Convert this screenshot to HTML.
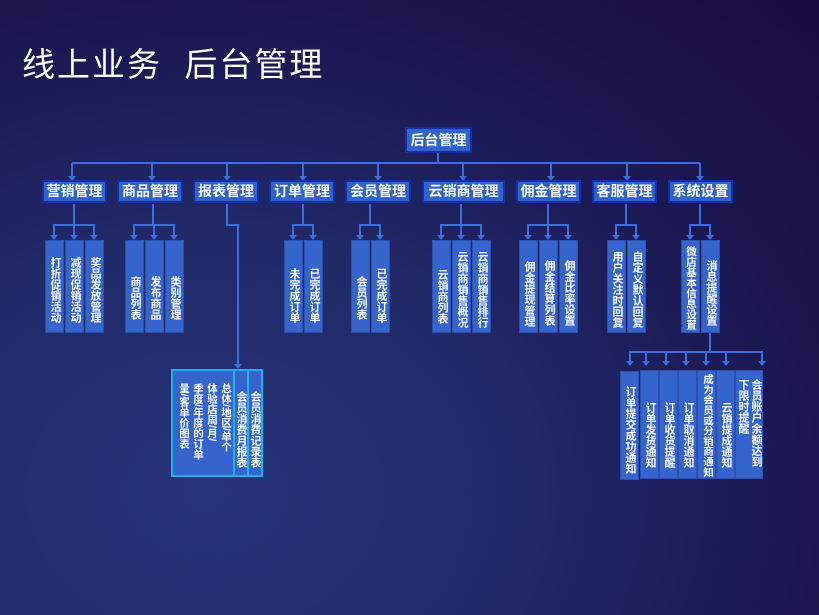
<!DOCTYPE html>
<html><head><meta charset="utf-8"><style>
body{margin:0;width:819px;height:615px;overflow:hidden;position:relative;
background:radial-gradient(ellipse at 25% 80%,#28347a 0%,#212a68 35%,#1c1a55 62%,#1a0b40 100%);
font-family:"Liberation Sans","Noto Sans CJK SC",sans-serif;color:#fff}
.t{position:absolute;left:22px;top:38px;font-size:33px;letter-spacing:2px;white-space:pre}
.b1{position:absolute;height:19px;background:#2f63cc;border:2px solid #1430a8;font-size:14px;font-weight:bold;text-align:center;line-height:19px;box-sizing:content-box}
.v{position:absolute;background:#3565cc;border:1px solid #2a50b0;writing-mode:vertical-rl;text-orientation:upright;font-size:11px;font-weight:bold;line-height:17px;padding-top:6px;box-sizing:border-box;text-align:center;white-space:nowrap}
svg{position:absolute;left:0;top:0}
</style></head><body>
<div class="t">线上业务  后台管理</div>
<svg width="819" height="615"><g stroke="#3a6ee0" stroke-width="2" fill="none">
<line x1="438" y1="153" x2="438" y2="163"/>
<line x1="72" y1="163" x2="700" y2="163"/>
<line x1="72" y1="163" x2="72" y2="176"/><line x1="152" y1="163" x2="152" y2="176"/><line x1="227" y1="163" x2="227" y2="176"/><line x1="303" y1="163" x2="303" y2="176"/><line x1="378" y1="163" x2="378" y2="176"/><line x1="463" y1="163" x2="463" y2="176"/><line x1="551" y1="163" x2="551" y2="176"/><line x1="627" y1="163" x2="627" y2="176"/><line x1="700" y1="163" x2="700" y2="176"/>
<path d="M74 204V225M54 236V225H94V236M74 225V236"/>
<path d="M153 204V225M134 236V225H174V236M154 225V236"/>
<path d="M303 204V225M293 236V225H313V236"/>
<path d="M370 204V225M360 236V225H380V236"/>
<path d="M461 204V225M441 236V225H481V236M461 225V236"/>
<path d="M548 204V225M528 236V225H568V236M548 225V236"/>
<path d="M626 204V225M616 236V225H636V236"/>
<path d="M700 204V225M690 236V225H710V236"/>
<path d="M227 204V225H238V365"/>
<path d="M710 333V352M630 362V352H762V362M646 352V362M666 352V362M686 352V362M706 352V362M726 352V362"/>
</g><g fill="#3a6ee0">
<path id="a" d="M-4 0H4L0 5Z" transform="translate(72 176)"/>
<use href="#a" x="80"/><use href="#a" x="155"/><use href="#a" x="231"/><use href="#a" x="306"/><use href="#a" x="391"/><use href="#a" x="479"/><use href="#a" x="555"/><use href="#a" x="628"/>
<path id="b" d="M-4 0H4L0 5Z" transform="translate(54 235)"/>
<use href="#b" x="20"/><use href="#b" x="40"/><use href="#b" x="80"/><use href="#b" x="100"/><use href="#b" x="120"/><use href="#b" x="239"/><use href="#b" x="259"/><use href="#b" x="306"/><use href="#b" x="326"/><use href="#b" x="387"/><use href="#b" x="407"/><use href="#b" x="427"/><use href="#b" x="474"/><use href="#b" x="494"/><use href="#b" x="514"/><use href="#b" x="562"/><use href="#b" x="582"/><use href="#b" x="636"/><use href="#b" x="656"/>
<path d="M234 364H242L238 369Z"/>
<path id="c" d="M-4 0H4L0 5Z" transform="translate(630 361)"/>
<use href="#c" x="16"/><use href="#c" x="36"/><use href="#c" x="56"/><use href="#c" x="76"/><use href="#c" x="96"/><use href="#c" x="132"/>
</g></svg>
<div class="b1" style="left:405px;top:127px;width:63px;height:22px;line-height:22px">后台管理</div>
<div class="b1" style="left:42px;top:180px;width:61px">营销管理</div>
<div class="b1" style="left:117px;top:180px;width:62px">商品管理</div>
<div class="b1" style="left:193px;top:180px;width:62px">报表管理</div>
<div class="b1" style="left:269px;top:180px;width:62px">订单管理</div>
<div class="b1" style="left:345px;top:180px;width:62px">会员管理</div>
<div class="b1" style="left:422px;top:180px;width:79px">云销商管理</div>
<div class="b1" style="left:516px;top:180px;width:61px">佣金管理</div>
<div class="b1" style="left:592px;top:180px;width:61px">客服管理</div>
<div class="b1" style="left:668px;top:180px;width:61px">系统设置</div>

<div class="v" style="left:45px;top:240px;width:19px;height:93px">打折促销活动</div>
<div class="v" style="left:65px;top:240px;width:19px;height:93px">减现促销活动</div>
<div class="v" style="left:85px;top:240px;width:19px;height:93px">奖品发放管理</div>
<div class="v" style="left:125px;top:240px;width:19px;height:93px;padding-top:22px">商品列表</div>
<div class="v" style="left:145px;top:240px;width:19px;height:93px;padding-top:22px">发布商品</div>
<div class="v" style="left:165px;top:240px;width:19px;height:93px;padding-top:22px">类别管理</div>
<div class="v" style="left:284px;top:240px;width:19px;height:93px;padding-top:18px">未完成订单</div>
<div class="v" style="left:304px;top:240px;width:19px;height:93px;padding-top:18px">已完成订单</div>
<div class="v" style="left:351px;top:240px;width:19px;height:93px;padding-top:22px">会员列表</div>
<div class="v" style="left:371px;top:240px;width:19px;height:93px;padding-top:18px">已完成订单</div>
<div class="v" style="left:432px;top:240px;width:19px;height:93px;padding-top:20px">云销商列表</div>
<div class="v" style="left:452px;top:240px;width:19px;height:93px">云销商销售概况</div>
<div class="v" style="left:472px;top:240px;width:19px;height:93px">云销商销售排行</div>
<div class="v" style="left:519px;top:240px;width:19px;height:93px;padding-top:14px">佣金提现管理</div>
<div class="v" style="left:539px;top:240px;width:19px;height:93px;padding-top:12px">佣金结算列表</div>
<div class="v" style="left:559px;top:240px;width:19px;height:93px;padding-top:12px">佣金比率设置</div>
<div class="v" style="left:607px;top:240px;width:19px;height:93px">用户关注时回复</div>
<div class="v" style="left:627px;top:240px;width:19px;height:93px">自定义默认回复</div>
<div class="v" style="left:681px;top:240px;width:19px;height:93px;padding-top:2px;font-size:10.5px">微店基本信息设置</div>
<div class="v" style="left:701px;top:240px;width:19px;height:93px;padding-top:12px">消息提醒设置</div>

<div style="position:absolute;left:171px;top:369px;width:92px;height:108px;border:2px solid #19b4ee;background:#3565cc;box-sizing:border-box"></div>
<div class="v" style="left:173px;top:371px;width:60px;height:104px;border:none;background:none;padding-top:12px;line-height:14px;text-align:left;font-size:10.5px;text-orientation:mixed">总体/地区/单个<br>体验店周/月/<br>季度/年度的订单<br>量/客单价图表</div>
<div class="v" style="left:233px;top:371px;width:14px;height:104px;border:none;border-left:2px solid #19b4ee;background:none;padding-top:12px;line-height:13px;font-size:11px">会员消费月报表</div>
<div class="v" style="left:247px;top:371px;width:14px;height:104px;border:none;border-left:2px solid #19b4ee;background:none;padding-top:12px;line-height:13px;font-size:11px">会员消费记录表</div>

<div class="v" style="left:620px;top:371px;width:19px;height:109px;padding-top:8px">订单提交成功通知</div>
<div class="v" style="left:640px;top:370px;width:19px;height:109px;padding-top:20px">订单发货通知</div>
<div class="v" style="left:659px;top:370px;width:19px;height:109px;padding-top:20px">订单收货提醒</div>
<div class="v" style="left:678px;top:370px;width:19px;height:109px;padding-top:20px">订单取消通知</div>
<div class="v" style="left:697px;top:370px;width:19px;height:109px;padding-top:2px;font-size:10.3px">成为会员或分销商通知</div>
<div class="v" style="left:716px;top:370px;width:19px;height:109px;padding-top:20px">云销提成通知</div>
<div class="v" style="left:735px;top:370px;width:28px;height:109px;padding-top:8px;line-height:13px;text-align:left">会员账户余额达到<br>下限时提醒</div>
</body></html>
